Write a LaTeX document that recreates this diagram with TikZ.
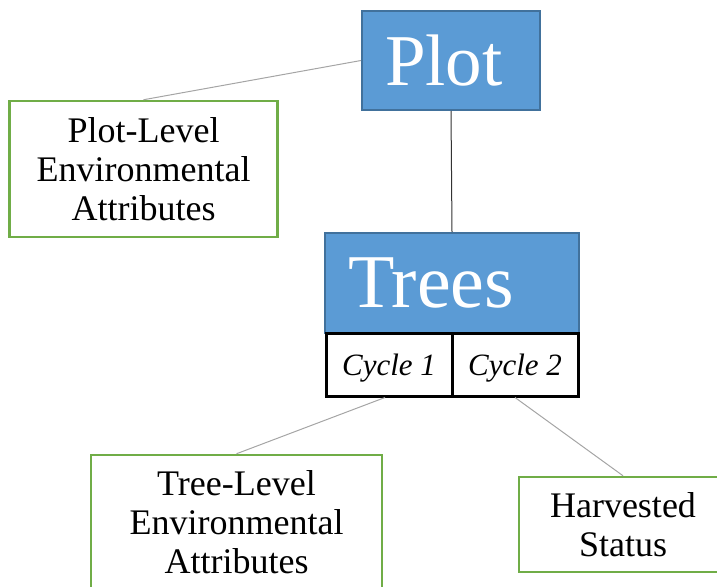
\documentclass[tikz,border=0pt]{standalone}
\usepackage{fontspec}
\setmainfont{Liberation Serif}
\definecolor{bluefill}{HTML}{5B9BD5}
\definecolor{blueline}{HTML}{41719C}
\definecolor{greenline}{HTML}{70AD47}
\definecolor{connGray}{HTML}{A5A5A5}
\begin{document}
\begin{tikzpicture}[x=1pt,y=-1pt,
  headbox/.style={draw=blueline, line width=2pt, fill=bluefill, text=white,
    align=left, inner xsep=23pt, inner ysep=0pt},
  attrbox/.style={draw=greenline, line width=2.5pt, fill=white, align=center,
    font=\fontsize{36}{39}\selectfont, inner sep=0pt},
  cyclebox/.style={draw=black, line width=3pt, fill=white, minimum width=126pt,
    minimum height=63pt, inner sep=0pt, text depth=0pt,
    font=\fontsize{31}{34}\selectfont\itshape},
  thinconn/.style={draw=connGray, line width=1pt},
  darkconn/.style={draw=black!80, line width=1pt}]
\useasboundingbox (0,0) rectangle (717,586);

\node[headbox, text width=132pt, minimum height=99pt,
  font=\fontsize{73}{77}\selectfont] (plot) at (451,60.5) {Plot};
\node[attrbox, minimum width=268pt, minimum height=136pt] (penv) at (143.5,169)
  {Plot-Level\\Environmental\\Attributes};
\node[headbox, text width=208pt, minimum height=100pt,
  font=\fontsize{76}{80}\selectfont] (trees) at (452,283) {Trees};
\node[cyclebox] (c1) at (389,364.5) {Cycle 1};
\node[cyclebox] (c2) at (515,364.5) {Cycle 2};
\node[attrbox, minimum width=291pt, minimum height=135pt] (tenv) at (236.5,522.5)
  {Tree-Level\\Environmental\\Attributes};
\node[attrbox, minimum width=208pt, minimum height=95pt] (harv) at (623,524.5)
  {Harvested\\Status};

\draw[thinconn] (plot.west) -- (penv.north);
\draw[darkconn] (plot.south) -- (trees.north);
\draw[thinconn] ([xshift=-4pt]c1.south) -- (tenv.north);
\draw[thinconn] (c2.south) -- (harv.north);
\end{tikzpicture}
\end{document}
